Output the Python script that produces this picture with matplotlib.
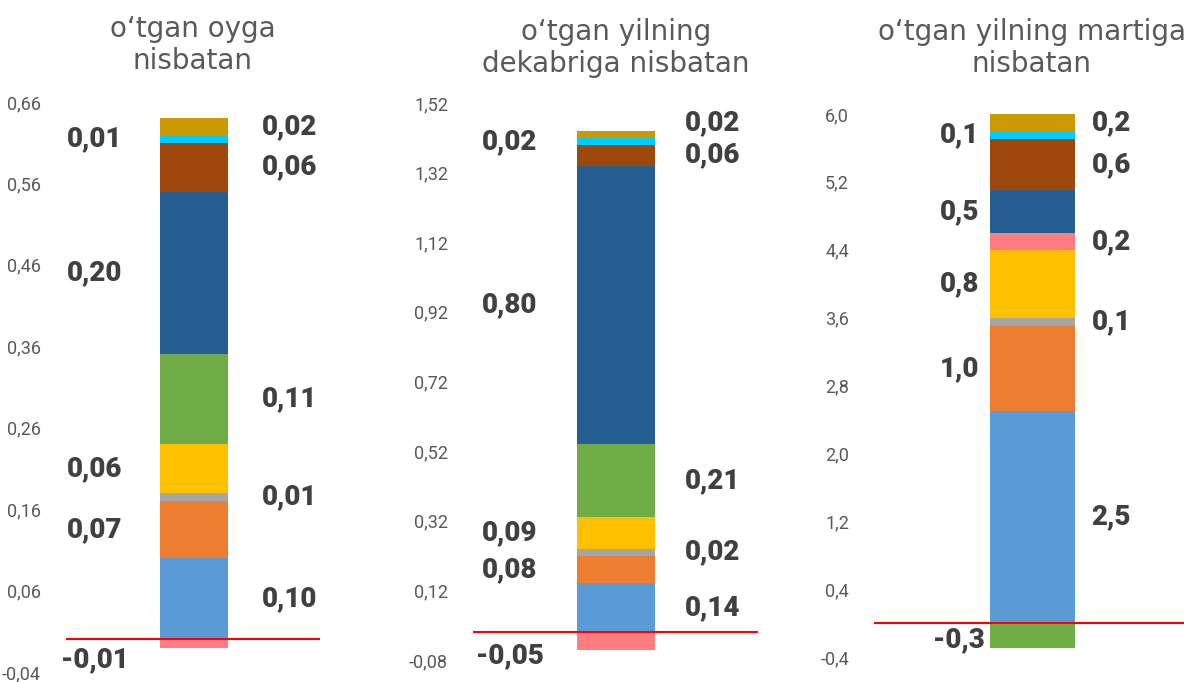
import numpy as np
import matplotlib
matplotlib.use("Agg")
import matplotlib.pyplot as plt

# ------------------------------------------------------------
# data: contributions per component, bottom to top
# ------------------------------------------------------------
titles = [
    "o\u2018tgan oyga\nnisbatan",
    "o\u2018tgan yilning\ndekabriga nisbatan",
    "o\u2018tgan yilning martiga\nnisbatan",
]

colors = ["#5B9BD5", "#ED7D31", "#A5A5A5", "#FFC000", "#70AD47",
          "#FF7C80", "#255E91", "#9E480E", "#00CCFF", "#CC9900"]

vals_month = [0.10, 0.07, 0.01, 0.06, 0.11, -0.01, 0.20, 0.06, 0.01, 0.02]
vals_dec = [0.14, 0.08, 0.02, 0.09, 0.21, -0.05, 0.80, 0.06, 0.02, 0.02]
vals_mar = [2.5, 1.0, 0.1, 0.8, -0.3, 0.2, 0.5, 0.6, 0.1, 0.2]

yticks_month = [-0.04, 0.06, 0.16, 0.26, 0.36, 0.46, 0.56, 0.66]
yticks_dec = [-0.08, 0.12, 0.32, 0.52, 0.72, 0.92, 1.12, 1.32, 1.52]
yticks_mar = [-0.4, 0.4, 1.2, 2.0, 2.8, 3.6, 4.4, 5.2, 6.0]

# ------------------------------------------------------------
# layout (figure fractions) and styling
# ------------------------------------------------------------
panels = [
    dict(vals=vals_month, ticks=yticks_month, dec=2,
         rect=[0.0557, 0.0147, 0.2145, 0.8358],
         bar_x=0.504, bar_w=0.268, xl=0.114, xr=0.879,
         title_xy=(193, 45), neg_dy=-12, top_dy=0),
    dict(vals=vals_dec, ticks=yticks_dec, dec=2,
         rect=[0.3995, 0.0323, 0.2407, 0.8167],
         bar_x=0.502, bar_w=0.274, xl=0.13, xr=0.842,
         title_xy=(616, 48), neg_dy=-11, top_dy=8),
    dict(vals=vals_mar, ticks=yticks_mar, dec=1,
         rect=[0.7382, 0.0367, 0.2618, 0.7962],
         bar_x=0.51, bar_w=0.274, xl=0.275, xr=0.765,
         title_xy=(1032, 48), neg_dy=-3, top_dy=0),
]

W, H = 1184, 682
label_kw = dict(ha="center", va="center", fontsize=20, fontweight="black",
                family="Roboto", color="#404040", zorder=5)


def fmt(v, dec):
    return f"{v:.{dec}f}".replace(".", ",")


fig = plt.figure(figsize=(W / 100, H / 100), dpi=100)

for p, title in zip(panels, titles):
    ax = fig.add_axes(p["rect"])
    vals = p["vals"]

    pos_bottom = 0.0
    neg_bottom = 0.0
    segs = []
    for v, c in zip(vals, colors):
        if v >= 0:
            ax.bar(p["bar_x"], v, width=p["bar_w"], bottom=pos_bottom,
                   color=c, zorder=2)
            segs.append((v, pos_bottom + v / 2))
            pos_bottom += v
        else:
            ax.bar(p["bar_x"], v, width=p["bar_w"], bottom=neg_bottom,
                   color=c, zorder=2)
            segs.append((v, neg_bottom + v / 2))
            neg_bottom += v

    # labels alternate sides, starting on the right at the top of the stack
    positives = [s for s in segs if s[0] >= 0][::-1]
    for i, (v, yc) in enumerate(positives):
        x = p["xr"] if i % 2 == 0 else p["xl"]
        dy = p["top_dy"] if i == 0 else 0
        ax.annotate(fmt(v, p["dec"]), (x, yc), xytext=(0, dy),
                    textcoords="offset points", **label_kw)
    for v, yc in [s for s in segs if s[0] < 0]:
        ax.annotate(fmt(v, p["dec"]), (p["xl"], yc),
                    xytext=(0, p["neg_dy"]), textcoords="offset points",
                    **label_kw)

    ax.axhline(0, color="#FF0000", linewidth=1.5, zorder=3)

    ax.set_xlim(0, 1)
    ax.set_ylim(p["ticks"][0], p["ticks"][-1])
    ax.set_yticks(p["ticks"])
    ax.set_yticklabels([fmt(t, p["dec"]) for t in p["ticks"]],
                       family="Roboto")
    ax.set_xticks([])
    ax.tick_params(axis="y", length=0, pad=18, labelsize=13,
                   labelcolor="#595959")
    for s in ax.spines.values():
        s.set_visible(False)

    tx, ty = p["title_xy"]
    fig.text(tx / W, 1 - ty / H, title, ha="center", va="center",
             fontsize=20, color="#595959", family="DejaVu Sans",
             linespacing=1.18)

fig.savefig("out.png", dpi=100)
